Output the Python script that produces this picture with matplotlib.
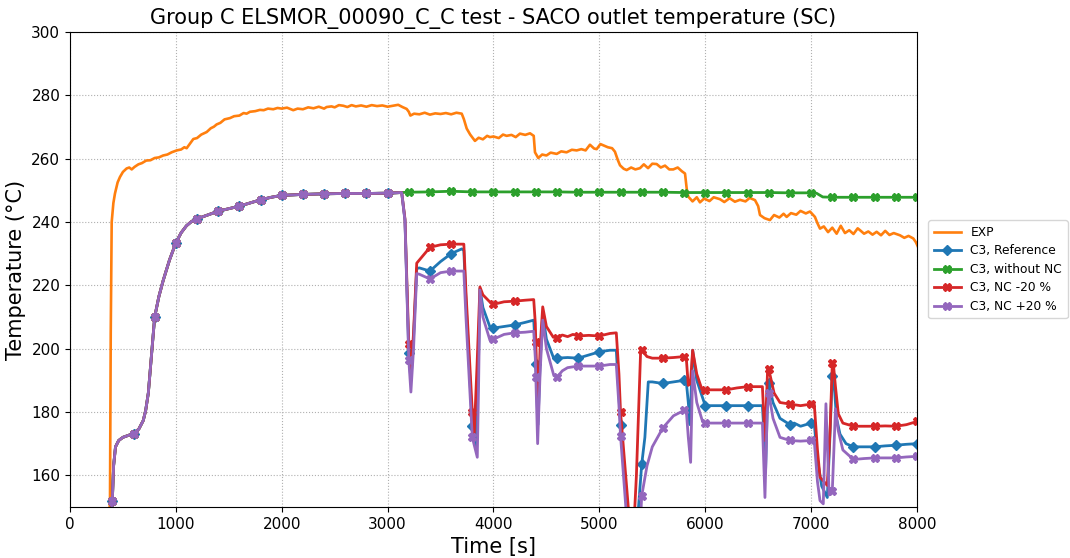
import numpy as np
import matplotlib.pyplot as plt

# measured temperature (EXP)
exp_t = [360, 378, 385, 394, 410, 425, 450, 472, 500, 535, 560, 583, 610, 646, 680, 720, 760, 800, 840, 880,
         920, 960, 1008, 1050, 1080, 1102, 1130, 1165, 1200, 1240, 1291, 1330, 1360, 1385, 1420, 1460, 1511,
         1550, 1600, 1640, 1668, 1700, 1750, 1794, 1830, 1870, 1920, 1960, 2000, 2050, 2109, 2150, 2200, 2250,
         2300, 2350, 2400, 2424, 2470, 2500, 2540, 2582, 2620, 2660, 2700, 2750, 2800, 2850, 2900, 2950, 3000,
         3053, 3100, 3140, 3180, 3200, 3215, 3250, 3300, 3350, 3400, 3450, 3500, 3550, 3600, 3650, 3700, 3720,
         3747, 3780, 3825, 3860, 3900, 3940, 3967, 4000, 4050, 4090, 4124, 4170, 4210, 4250, 4300, 4345, 4380,
         4392, 4423, 4460, 4500, 4540, 4597, 4640, 4690, 4740, 4786, 4830, 4870, 4911, 4950, 4974, 5010, 5037,
         5080, 5120, 5147, 5175, 5195, 5230, 5258, 5300, 5340, 5384, 5420, 5460, 5500, 5541, 5580, 5620, 5660,
         5698, 5740, 5780, 5809, 5825, 5840, 5880, 5920, 5950, 5990, 6040, 6080, 6139, 6180, 6230, 6280, 6328,
         6380, 6420, 6470, 6500, 6517, 6560, 6611, 6650, 6700, 6740, 6769, 6810, 6860, 6900, 6950, 6989, 7036,
         7060, 7084, 7120, 7160, 7200, 7241, 7280, 7320, 7360, 7400, 7440, 7462, 7500, 7540, 7580, 7619, 7660,
         7700, 7740, 7780, 7839, 7880, 7920, 7965, 7990, 8010]
exp_v = [140, 152, 205, 240, 246, 249, 252.5, 254.2, 255.8, 256.9, 257.2, 256.6, 257.4, 258.2, 258.6, 259.4,
         259.5, 260.2, 260.4, 261.0, 261.3, 262.0, 262.6, 262.9, 263.6, 263.3, 264.6, 266.2, 266.5, 267.6, 268.4,
         269.6, 270.1, 270.8, 271.3, 272.4, 272.8, 273.4, 273.6, 274.4, 274.2, 274.8, 275.0, 275.4, 275.3, 275.8,
         275.6, 276.0, 275.8, 276.1, 275.3, 275.8, 275.6, 276.2, 275.9, 276.4, 275.8, 276.3, 276.5, 276.2, 276.9,
         276.7, 276.3, 276.9, 276.5, 276.8, 276.4, 276.9, 276.6, 276.8, 276.4, 276.7, 277.0, 276.3, 275.7, 274.8,
         273.6, 274.2, 274.0, 274.5, 273.9, 274.3, 274.1, 274.4, 274.0, 274.5, 274.2, 272.5, 269.5, 267.6, 265.6,
         266.6, 266.1, 267.2, 266.8, 267.0, 266.5, 267.6, 267.2, 267.5, 266.8, 267.9, 267.5, 268.0, 267.2, 262.0,
         260.2, 261.3, 261.0, 261.9, 261.5, 262.3, 262.0, 262.8, 262.6, 263.0, 262.6, 264.4, 263.2, 263.0, 264.6,
         264.2, 263.6, 263.3, 262.2, 259.5, 257.9, 256.8, 256.4, 257.2, 256.6, 257.0, 258.2, 257.0, 258.4, 258.3,
         257.2, 257.8, 256.6, 256.6, 257.2, 256.0, 255.3, 250.5, 248.0, 246.5, 247.8, 246.2, 247.4, 246.6, 247.8,
         247.2, 246.3, 247.5, 246.4, 247.0, 246.5, 247.6, 246.9, 245.0, 242.2, 241.2, 240.6, 242.2, 241.4, 242.6,
         241.6, 242.8, 242.3, 243.5, 242.7, 243.3, 241.6, 239.6, 237.9, 238.6, 236.8, 238.2, 236.3, 238.8, 236.5,
         237.4, 236.2, 238.0, 237.4, 236.3, 237.0, 236.0, 236.9, 235.8, 237.2, 235.9, 236.5, 235.8, 235.0, 235.6,
         234.8, 233.6, 232.1]

# part shared by all simulations
common_t = [380, 400, 412, 430, 460, 500, 550, 600, 650, 692, 715, 740, 770, 800, 840, 881, 940, 1000, 1050,
            1100, 1150, 1200, 1300, 1400, 1500, 1600, 1700, 1800, 1900, 2000, 2200, 2400, 2600, 2800, 3000, 3133]
common_v = [142, 152, 163, 169, 171, 172, 172.6, 173.2, 174.6, 177.3, 180.5, 186, 198, 210, 216.5, 221.6, 228,
            233.4, 236.6, 238.8, 240.2, 241, 242.2, 243.4, 244.2, 245, 246, 247, 247.8, 248.4, 248.7, 248.9, 249,
            249, 249.1, 249.3]

ref_t = [3164, 3200, 3220, 3240, 3275, 3300, 3400, 3500, 3600, 3700, 3720, 3740, 3800, 3830, 3855, 3872, 3900,
         3967, 4000, 4100, 4200, 4300, 4380, 4395, 4400, 4420, 4440, 4465, 4500, 4565, 4600, 4700, 4800, 4900,
         5000, 5100, 5160, 5185, 5200, 5260, 5300, 5340, 5370, 5400, 5430, 5462, 5500, 5600, 5700, 5800, 5820,
         5840, 5856, 5881, 5920, 6000, 6100, 6200, 6300, 6400, 6540, 6560, 6570, 6590, 6600, 6640, 6706, 6800,
         6840, 6900, 7000, 7030, 7060, 7100, 7153, 7175, 7200, 7215, 7240, 7273, 7330, 7400, 7500, 7600, 7700,
         7800, 7900, 8000]
ref_v = [240.6, 198.5, 190, 200, 225.3, 225.5, 224.5, 227.5, 230, 231.5, 231, 215, 175.5, 169, 190, 219, 213,
         206.8, 206.5, 207, 207.5, 208.3, 209, 200, 195, 176, 195, 211, 203, 197.3, 197, 197.2, 197, 198, 199,
         199.5, 199.5, 185, 176, 150, 140, 140, 150, 163.5, 172, 189.5, 189.5, 189, 189.5, 190, 190, 183, 176,
         199.5, 190, 182, 182, 182, 182, 182, 182, 170, 161.5, 186, 189, 183, 178, 176, 176.5, 175.5, 176.5,
         176.2, 165, 156.6, 153, 170, 191.5, 190, 178, 173, 170, 169, 169, 169, 169.3, 169.5, 169.8, 170]

nonc_t = [3200, 3400, 3600, 3800, 4000, 4200, 4400, 4600, 4800, 5000, 5200, 5400, 5600, 5800, 6000, 6200,
          6400, 6600, 6800, 7000, 7050, 7110, 7200, 7400, 7600, 7800, 8000]
nonc_v = [249.4, 249.5, 249.7, 249.5, 249.5, 249.5, 249.5, 249.5, 249.4, 249.4, 249.4, 249.4, 249.4, 249.3,
          249.3, 249.3, 249.3, 249.3, 249.2, 249.2, 249.1, 247.9, 247.8, 247.8, 247.8, 247.8, 247.8]

m20_t = [3164, 3200, 3220, 3245, 3275, 3300, 3400, 3500, 3600, 3720, 3740, 3800, 3818, 3845, 3872, 3900, 3967,
         4000, 4100, 4200, 4300, 4380, 4395, 4400, 4420, 4440, 4465, 4500, 4565, 4600, 4650, 4700, 4750, 4800,
         4900, 5000, 5100, 5160, 5185, 5200, 5273, 5300, 5320, 5350, 5390, 5400, 5450, 5500, 5600, 5700, 5800,
         5820, 5840, 5860, 5881, 5920, 5970, 6000, 6100, 6200, 6300, 6400, 6540, 6564, 6590, 6600, 6650, 6706,
         6800, 6830, 6840, 6900, 7000, 7030, 7060, 7084, 7153, 7180, 7200, 7209, 7230, 7257, 7300, 7400, 7500,
         7600, 7700, 7800, 7900, 8000]
m20_v = [241, 201.5, 192, 205, 227, 228, 232, 232.8, 233, 233, 218, 180, 173, 195, 219.5, 217, 214.7, 214, 214.8,
         215, 215.3, 215.5, 208, 202, 180, 200, 213.2, 207, 203.6, 203.5, 204.3, 203.8, 204.5, 204, 204.2, 204,
         204.8, 205, 192, 180, 150, 140, 140, 160, 199.5, 199.5, 197.5, 197, 197, 197.2, 197.5, 197.5, 188.4,
         189, 199.5, 192, 187, 187, 187, 187, 187.6, 188, 188, 171, 194.2, 193.5, 186, 183, 182.5, 181, 182.3,
         182, 182.5, 182.4, 168, 159.4, 156.8, 175, 195.5, 195.6, 188, 179.4, 176.5, 175.5, 175.5, 175.5, 175.6,
         175.5, 176, 177]

p20_t = [3164, 3200, 3220, 3245, 3275, 3300, 3400, 3500, 3600, 3720, 3740, 3800, 3847, 3860, 3872, 3900, 3967,
         4000, 4100, 4200, 4300, 4380, 4395, 4400, 4417, 4440, 4465, 4500, 4570, 4600, 4650, 4700, 4800, 4900,
         5000, 5100, 5160, 5185, 5200, 5250, 5300, 5380, 5400, 5450, 5500, 5600, 5700, 5800, 5820, 5840, 5862,
         5881, 5920, 5970, 6000, 6100, 6200, 6300, 6400, 6540, 6564, 6585, 6600, 6640, 6706, 6800, 6900, 7000,
         7030, 7060, 7084, 7115, 7140, 7170, 7200, 7230, 7257, 7300, 7400, 7500, 7600, 7700, 7800, 7900, 8000]
p20_v = [240.4, 196.5, 186.3, 200, 223.7, 223.5, 222, 224, 224.5, 224.5, 210, 172, 165.7, 190, 218.5, 210, 202.6,
         203, 204.5, 205, 205.2, 205.5, 197, 191, 170, 192, 209, 200, 191.5, 191, 193, 194, 194.5, 194.5, 194.5,
         195, 195, 182, 172.5, 150, 138, 140, 153.5, 163, 169, 175, 178.8, 180.5, 181, 172, 164.1, 193, 183,
         177.5, 176.5, 176.5, 176.5, 176.5, 176.5, 176.5, 153, 180, 186, 178, 172, 171, 170.8, 171, 170.8, 158,
         152, 151, 182.6, 153.8, 155, 181, 174, 168, 165, 165.3, 165.5, 165.5, 165.5, 165.8, 166]


def sim(t_tail, v_tail):
    t = np.array(common_t + t_tail)
    v = np.array(common_v + v_tail)
    # markers sit on the 200 s sampling points
    idx = [i for i in range(len(t)) if t[i] >= 400 and t[i] % 200 == 0]
    return t, v, idx


fig = plt.figure(figsize=(10.7, 5.58), dpi=100)
ax = fig.add_axes([0.0654, 0.0914, 0.7916, 0.8513])

ax.plot(exp_t, exp_v, color='tab:orange', lw=1.9, label='EXP')

t, v, idx = sim(ref_t, ref_v)
ax.plot(t, v, color='tab:blue', lw=2, marker='D', ms=5.5, markevery=idx, label='C3, Reference')
t, v, idx = sim(nonc_t, nonc_v)
ax.plot(t, v, color='tab:green', lw=2, marker='X', ms=5.5, markevery=idx, label='C3, without NC')
t, v, idx = sim(m20_t, m20_v)
ax.plot(t, v, color='tab:red', lw=2, marker='X', ms=5.5, markevery=idx, label='C3, NC -20 %')
t, v, idx = sim(p20_t, p20_v)
ax.plot(t, v, color='tab:purple', lw=2, marker='X', ms=5.5, markevery=idx, label='C3, NC +20 %')

ax.set_xlim(0, 8000)
ax.set_ylim(150, 300)
ax.set_yticks(np.arange(160, 301, 20))
ax.tick_params(labelsize=11)
ax.grid(True, linestyle=':', color='#b0b0b0')
ax.set_xlabel('Time [s]', fontsize=15)
ax.set_ylabel('Temperature (°C)', fontsize=15)
ax.set_title('Group C ELSMOR_00090_C_C test - SACO outlet temperature (SC)', fontsize=15)
ax.legend(loc='center left', bbox_to_anchor=(1.006, 0.5), fontsize=8.8, handlelength=2.2,
          borderpad=0.45, labelspacing=0.45)

fig.savefig('out.png')
